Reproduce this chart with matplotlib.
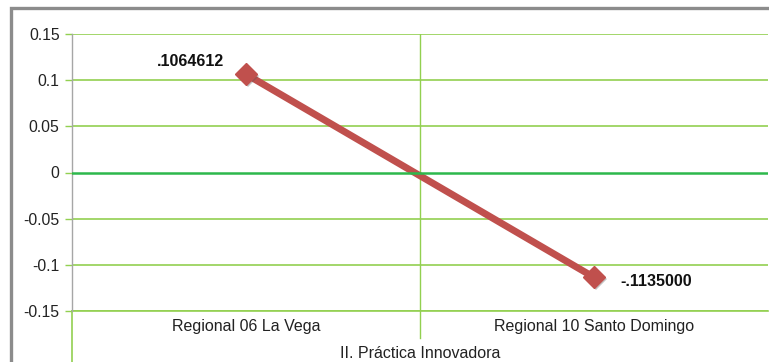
import matplotlib
matplotlib.use("Agg")
import matplotlib.pyplot as plt
import matplotlib.patheffects as pe
from matplotlib.patches import Rectangle
from matplotlib.lines import Line2D

categories = ["Regional 06 La Vega", "Regional 10 Santo Domingo"]
group_label = "II. Práctica Innovadora"
values = [0.1064612, -0.1135000]
value_labels = [".1064612", "-.1135000"]
y_ticks = [-0.15, -0.1, -0.05, 0, 0.05, 0.1, 0.15]
y_tick_labels = ["-0.15", "-0.1", "-0.05", "0", "0.05", "0.1", "0.15"]

plt.rcParams["font.family"] = ["Liberation Sans", "DejaVu Sans"]

W, H = 769, 362
fig = plt.figure(figsize=(W / 100, H / 100), dpi=100)
fig.patch.set_facecolor("white")

# outer chart frame
fig.add_artist(Rectangle((10.5 / W, -0.2), 1.5, 1 - 8 / H + 0.2,
                         transform=fig.transFigure, fill=False,
                         edgecolor="#8c8c8c", linewidth=2.4))

left, right, top, bottom = 72 / W, 768 / W, 1 - 34 / H, 1 - 311 / H
ax = fig.add_axes([left, bottom, right - left, top - bottom])
ax.set_xlim(-0.5, 1.5)
ax.set_ylim(-0.15, 0.15)

grid_c = "#92D050"
for s in ["top", "right", "bottom"]:
    ax.spines[s].set_visible(False)
ax.spines["left"].set_color("#a6a6a6")
ax.spines["left"].set_linewidth(1.0)

ax.set_yticks(y_ticks)
ax.set_yticklabels(y_tick_labels, fontsize=11.3, color="#222222")
ax.tick_params(axis="y", length=5, color=grid_c, width=1.0, pad=4)
ax.set_xticks([])

for yv in y_ticks:
    if yv == 0:
        continue
    ax.axhline(yv, color=grid_c, linewidth=1.2, zorder=1)
ax.axvline(0.5, color=grid_c, linewidth=1.0, zorder=1)

x = list(range(len(values)))
shadow = [pe.SimplePatchShadow(offset=(1.5, -1.5), alpha=0.35, shadow_rgbFace="#555555"),
          pe.Normal()]
ax.plot(x, values, color="#C0504D", linewidth=5.0, solid_capstyle="butt",
        marker="D", markersize=11, markerfacecolor="#C0504D",
        markeredgecolor="#C0504D", zorder=3, path_effects=shadow)

# zero line drawn over the series
ax.axhline(0, color="#2DB84C", linewidth=1.8, zorder=4)

ax.annotate(value_labels[0], (x[0], values[0]), xytext=(-16, 9),
            textcoords="offset points", ha="right", va="center",
            fontsize=11.5, fontweight="bold", color="#111111")
ax.annotate(value_labels[1], (x[1], values[1]), xytext=(19, -3),
            textcoords="offset points", ha="left", va="center",
            fontsize=11.5, fontweight="bold", color="#111111")

# multi-level category axis below the plot
bt = ax.get_xaxis_transform()
for xi, name in zip(x, categories):
    ax.text(xi, -0.055, name, transform=bt, ha="center", va="center",
            fontsize=11.5, color="#222222")
ax.text(0.5, -0.152, group_label, transform=bt, ha="center", va="center",
        fontsize=11.5, color="#222222", clip_on=False)

ax.add_line(Line2D([0.5, 0.5], [0, -0.098], transform=bt, color=grid_c,
                   linewidth=1.0, clip_on=False))
ax.add_line(Line2D([-0.5, -0.5], [0, -0.2], transform=bt, color=grid_c,
                   linewidth=1.2, clip_on=False))
ax.add_line(Line2D([-0.5, 1.5], [0, 0], transform=bt, color=grid_c,
                   linewidth=1.2, clip_on=False))

fig.savefig("out.png", dpi=100)
